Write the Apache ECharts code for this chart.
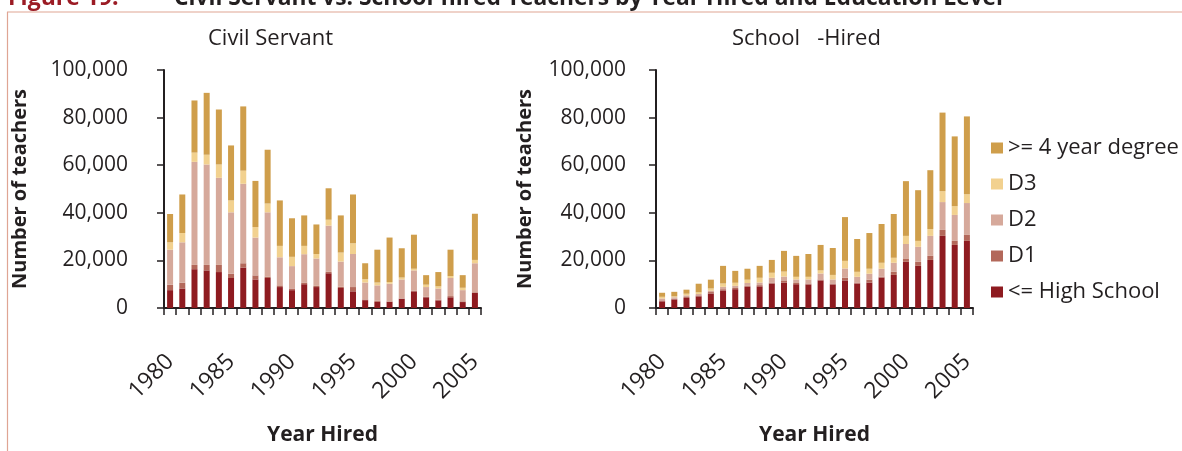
<!DOCTYPE html>
<html>
<head>
<meta charset="utf-8">
<script src="https://cdn.jsdelivr.net/npm/echarts@6/dist/echarts.min.js"></script>
<style>
  html, body { margin: 0; padding: 0; background: #ffffff; }
  #chart { width: 1182px; height: 451px; }
</style>
</head>
<body>
<div id="chart"></div>
<script>
// Hiring years shown on both panels
const years = ['1980','1981','1982','1983','1984','1985','1986','1987','1988','1989',
  '1990','1991','1992','1993','1994','1995','1996','1997','1998','1999',
  '2000','2001','2002','2003','2004','2005'];

// Education levels, bottom of the stack first
const levels = ['<= High School', 'D1', 'D2', 'D3', '>= 4 year degree'];

// Civil servant teachers hired per year, by education level
const civilHighSchool = [7500, 8200, 16300, 15800, 15100, 12600, 17000, 12000, 12600, 8800,
  7500, 10000, 8800, 14600, 8400, 7000, 3300, 2600, 2600, 3900,
  7000, 4500, 3200, 4500, 2500, 6300];
const civilD1 = [2300, 2400, 1800, 2300, 3000, 1800, 1800, 1700, 600, 700,
  700, 700, 500, 600, 500, 1800, 300, 500, 200, 100,
  300, 200, 300, 500, 300, 300];
const civilD2 = [14700, 17000, 43300, 42200, 36600, 25800, 33400, 15900, 27000, 11800,
  9400, 11900, 11500, 19400, 10600, 13900, 7100, 6400, 7400, 8000,
  8500, 4100, 4700, 7600, 4700, 12200];
const civilD3 = [3100, 3900, 3900, 4100, 5600, 5000, 5500, 4400, 3700, 4800,
  3900, 3500, 1900, 2500, 3800, 4500, 1400, 1200, 700, 800,
  700, 1000, 900, 800, 1000, 1400];
const civilDegree = [11900, 16200, 21900, 26000, 23100, 23100, 27000, 19400, 22600, 19100,
  16200, 12800, 12400, 13200, 15600, 20500, 6700, 13800, 18700, 12300,
  14300, 4000, 6000, 11100, 5300, 19400];

// School-hired teachers per year, by education level
const schoolHighSchool = [2800, 3600, 4200, 4900, 6100, 7400, 7900, 8900, 9100, 10300,
  10700, 10000, 9900, 11600, 9900, 11600, 10300, 10700, 12800, 13900,
  19400, 17700, 20200, 30300, 26500, 28200];
const schoolD1 = [400, 300, 400, 400, 600, 500, 500, 400, 500, 400,
  900, 500, 400, 400, 400, 1100, 400, 1200, 400, 1300,
  1200, 1700, 1700, 2500, 1700, 2500];
const schoolD2 = [800, 600, 700, 600, 600, 1000, 900, 1200, 1100, 2000,
  1600, 1500, 1700, 2500, 1700, 3900, 2400, 2500, 3300, 3800,
  6300, 6300, 8400, 11700, 10900, 13400];
const schoolD3 = [700, 400, 700, 700, 900, 1400, 1300, 1400, 2000, 2100,
  2100, 1100, 1100, 1300, 1900, 3200, 2100, 2100, 2500, 2100,
  3400, 2500, 2900, 4600, 3700, 3700];
const schoolDegree = [1700, 1900, 1700, 3600, 3700, 7400, 5000, 4600, 5000, 5400,
  8700, 8800, 9600, 10700, 11300, 18400, 13800, 15000, 16300, 18400,
  23000, 21300, 24700, 33000, 29300, 32700];

// Y axis scale
const yMin = 0, yMax = 100000, yStep = 20000;

const colors = ['#8e1b20', '#b3685a', '#d6a99b', '#f2d18f', '#cf9e4b'];
const ink = '#231f20';
const font = '"Open Sans", "Noto Sans", sans-serif';

const chart = echarts.init(document.getElementById('chart'), null, { renderer: 'canvas' });

const panels = [
  { left: 164, data: [civilHighSchool, civilD1, civilD2, civilD3, civilDegree], nameGap: 134, labelMargin: 36 },
  { left: 656, data: [schoolHighSchool, schoolD1, schoolD2, schoolD3, schoolDegree], nameGap: 121, labelMargin: 30 }
];

const grid = panels.map(p => ({ left: p.left, top: 70, width: 317, height: 239, containLabel: false }));

const xAxis = panels.map((p, i) => ({
  type: 'category',
  gridIndex: i,
  data: years,
  boundaryGap: true,
  name: 'Year Hired',
  nameLocation: 'middle',
  nameGap: 117,
  nameTextStyle: { fontFamily: font, fontWeight: 'bold', fontSize: 21, color: ink, verticalAlign: 'top' },
  axisLine: { show: true, lineStyle: { color: ink, width: 2 } },
  axisTick: { show: true, interval: 0, length: 7, lineStyle: { color: ink, width: 1.5 } },
  axisLabel: { interval: 4, rotate: 45, margin: 50, fontFamily: font, fontSize: 23, color: ink },
  splitLine: { show: false }
}));

const yAxis = panels.map((p, i) => ({
  type: 'value',
  gridIndex: i,
  min: yMin, max: yMax, interval: yStep,
  name: 'Number of teachers',
  nameLocation: 'middle',
  nameGap: p.nameGap,
  nameTextStyle: { fontFamily: font, fontWeight: 'bold', fontSize: 20, color: ink },
  axisLine: { show: true, lineStyle: { color: ink, width: 2 } },
  axisTick: { show: true, length: 7, lineStyle: { color: ink, width: 1.5 } },
  axisLabel: {
    margin: p.labelMargin, fontFamily: font, fontSize: 21, color: ink,
    formatter: v => v.toLocaleString('en-US')
  },
  splitLine: { show: false }
}));

const series = [];
panels.forEach((p, i) => {
  levels.forEach((lv, k) => {
    series.push({
      name: lv,
      type: 'bar',
      xAxisIndex: i,
      yAxisIndex: i,
      stack: 'panel' + i,
      barWidth: 6,
      data: p.data[k],
      itemStyle: { color: colors[k] },
      emphasis: { disabled: true },
      animation: false
    });
  });
});

chart.setOption({
  backgroundColor: '#ffffff',
  animation: false,
  color: colors,
  title: [
    { text: 'Civil Servant', left: 203, top: 23, textStyle: { fontFamily: font, fontWeight: 'normal', fontSize: 22, color: ink } },
    { text: 'School   -Hired', left: 727, top: 23, textStyle: { fontFamily: font, fontWeight: 'normal', fontSize: 22, color: ink } }
  ],
  legend: {
    orient: 'vertical',
    left: 986,
    top: 132,
    itemWidth: 12,
    itemHeight: 11,
    itemGap: 14,
    icon: 'rect',
    data: levels.slice().reverse(),
    textStyle: { fontFamily: font, fontSize: 22, color: ink }
  },
  graphic: [
    // frame around the figure
    { type: 'line', shape: { x1: 7.5, y1: 12, x2: 7.5, y2: 451 }, style: { stroke: '#dfa594', lineWidth: 1.2 } },
    { type: 'line', shape: { x1: 7, y1: 12, x2: 1182, y2: 12 }, style: { stroke: '#dfa594', lineWidth: 1.2 } },
    // figure caption above the frame
    { type: 'text', x: 8, y: 10, style: { text: 'Figure 19:', fill: '#9b1b24', font: 'bold 23px ' + font, textVerticalAlign: 'bottom' } },
    { type: 'text', x: 174, y: 10, style: { text: 'Civil Servant vs. School-hired Teachers by Year Hired and Education Level', fill: ink, font: 'bold 22.8px ' + font, textVerticalAlign: 'bottom' } }
  ],
  grid: grid,
  xAxis: xAxis,
  yAxis: yAxis,
  series: series
});
</script>
</body>
</html>
